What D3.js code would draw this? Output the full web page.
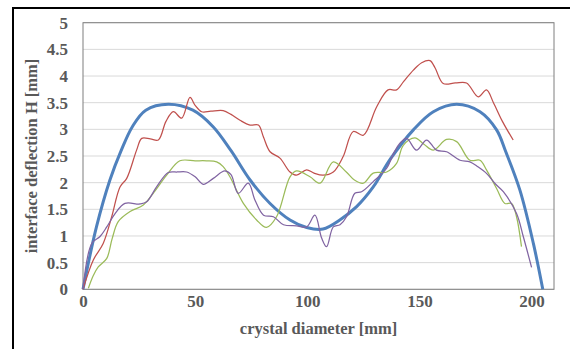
<!DOCTYPE html>
<html>
<head>
<meta charset="utf-8">
<script src="https://cdn.jsdelivr.net/npm/d3@7"></script>
<style>
  body { margin: 0; background: #fff; }
  text { font-family: "Liberation Serif", "Times New Roman", serif; font-weight: bold; fill: #595959; }
</style>
</head>
<body>
<div id="chart"></div>
<script>
// calculated profile (thick blue)
const calcX = [0, 6, 12, 17, 22, 28, 38, 49, 58, 66, 74.5, 83.4, 92.3, 99.7, 107, 114.5, 122, 129.4, 137, 147.3, 156.2, 166.6, 177, 184.4, 188.5, 194.8, 200.8, 205];
const calcH = [0, 1.17, 2.05, 2.6, 3.05, 3.36, 3.47, 3.36, 3.05, 2.6, 2.05, 1.61, 1.3, 1.16, 1.13, 1.3, 1.55, 1.92, 2.44, 2.99, 3.33, 3.47, 3.33, 2.99, 2.58, 1.86, 0.86, 0];

// measured profiles
const redX = [0, 4.6, 9, 12.8, 16.5, 19.5, 23.9, 26.2, 30, 33.6, 37, 40.3, 44, 47.7, 50, 52.9, 57, 62.5, 66, 70, 74.5, 78.2, 80.5, 83.4, 87.8, 92.3, 95.2, 99.7, 103, 107, 111.6, 116, 120.5, 125, 130.9, 136, 139.8, 143, 147.3, 151, 154.7, 157, 160.6, 166, 171, 176.2, 179.9, 183, 187, 191.8];
const redH = [0, 0.55, 0.86, 1.36, 1.92, 2.08, 2.61, 2.83, 2.82, 2.8, 3.15, 3.33, 3.21, 3.6, 3.45, 3.33, 3.34, 3.35, 3.28, 3.17, 3.08, 3.08, 2.85, 2.58, 2.46, 2.2, 2.14, 2.24, 2.18, 2.14, 2.2, 2.49, 2.96, 2.89, 3.42, 3.74, 3.74, 3.9, 4.11, 4.25, 4.29, 4.15, 3.86, 3.87, 3.87, 3.61, 3.74, 3.5, 3.15, 2.8];

const greenX = [2.4, 4.5, 6.8, 10.6, 13, 15.7, 21, 26.9, 31.3, 37.3, 43.2, 50, 55.1, 59.6, 62.5, 65.5, 71.5, 77.4, 81.8, 86.3, 92.3, 95.2, 101.2, 105.7, 111.6, 117.4, 121, 125, 129.4, 135.4, 139.8, 142.8, 148, 152, 156.2, 162.1, 166.6, 172.5, 177, 179.9, 184.4, 188.1, 191.1, 193.3, 195.5];
const greenH = [0.02, 0.25, 0.42, 0.58, 0.95, 1.27, 1.46, 1.58, 1.8, 2.14, 2.41, 2.41, 2.41, 2.39, 2.3, 2.11, 1.61, 1.3, 1.16, 1.36, 2.11, 2.22, 2.11, 1.99, 2.39, 2.2, 2.05, 1.99, 2.18, 2.2, 2.36, 2.7, 2.84, 2.72, 2.61, 2.81, 2.77, 2.42, 2.42, 2.24, 1.89, 1.61, 1.61, 1.36, 0.8];

const purpleX = [0, 3.9, 7.6, 10.6, 14.3, 18.7, 25.4, 28.4, 32.8, 38, 42, 46.2, 50, 53.6, 58.1, 63.2, 66, 69.2, 73.7, 76.7, 80.5, 84.9, 89.4, 95.2, 99.7, 103.4, 106.4, 108.6, 111.6, 114.6, 117.5, 121.2, 124.2, 129.4, 135.4, 138.5, 141.3, 144.3, 148.7, 153.2, 157.6, 162.1, 168.1, 172.5, 176, 180, 184, 187.4, 193.3, 196.3, 200];
const purpleH = [0, 0.86, 0.99, 1.17, 1.42, 1.61, 1.6, 1.64, 1.92, 2.19, 2.2, 2.2, 2.11, 1.97, 2.08, 2.22, 2.15, 1.8, 1.99, 1.67, 1.39, 1.36, 1.21, 1.19, 1.17, 1.39, 0.96, 0.8, 1.17, 1.21, 1.36, 1.8, 1.83, 2.02, 2.27, 2.55, 2.74, 2.83, 2.61, 2.8, 2.61, 2.58, 2.42, 2.39, 2.3, 2.17, 1.97, 1.83, 1.42, 0.99, 0.41];

const xTicks = [0, 50, 100, 150, 200];
const yTicks = [0, 0.5, 1, 1.5, 2, 2.5, 3, 3.5, 4, 4.5, 5];

const width = 570, height = 349;
const plotLeft = 83, plotRight = 554, plotTop = 22.7, plotBottom = 289.3;

const svg = d3.select("#chart").append("svg")
  .attr("width", width)
  .attr("height", height);

svg.append("rect").attr("width", width).attr("height", height).attr("fill", "#fff");

// outer figure frame (top and left edges)
svg.append("path")
  .attr("d", `M13,${height} V8 H${width}`)
  .attr("fill", "none")
  .attr("stroke", "#000")
  .attr("stroke-width", 2);

const x = d3.scaleLinear().domain([0, 210]).range([plotLeft, plotRight]);
const y = d3.scaleLinear().domain([0, 5]).range([plotBottom, plotTop]);

// gridlines
svg.append("g")
  .selectAll("line")
  .data(yTicks)
  .join("line")
  .attr("x1", plotLeft).attr("x2", plotRight)
  .attr("y1", d => y(d)).attr("y2", d => y(d))
  .attr("stroke", "#d9d9d9")
  .attr("stroke-width", 1);

// plot area border
svg.append("rect")
  .attr("x", plotLeft).attr("y", plotTop)
  .attr("width", plotRight - plotLeft).attr("height", plotBottom - plotTop)
  .attr("fill", "none")
  .attr("stroke", "#7f7f7f")
  .attr("stroke-width", 1);

const yAxis = svg.append("g")
  .attr("transform", `translate(${plotLeft},0)`)
  .call(d3.axisLeft(y).tickValues(yTicks).tickSize(0).tickPadding(15).tickFormat(d3.format("")));
yAxis.select(".domain").remove();
yAxis.selectAll("text").attr("font-size", 17).attr("font-family", null);

const xAxis = svg.append("g")
  .attr("transform", `translate(0,${plotBottom})`)
  .call(d3.axisBottom(x).tickValues(xTicks).tickSize(0).tickPadding(6));
xAxis.select(".domain").remove();
xAxis.selectAll("text").attr("font-size", 17).attr("font-family", null);

svg.append("text")
  .attr("x", (plotLeft + plotRight) / 2)
  .attr("y", 334)
  .attr("text-anchor", "middle")
  .attr("font-size", 16.5)
  .text("crystal diameter [mm]");

svg.append("text")
  .attr("transform", `translate(37,${(plotTop + plotBottom) / 2}) rotate(-90)`)
  .attr("text-anchor", "middle")
  .attr("font-size", 16.5)
  .text("interface deflection H [mm]");

const line = d3.line()
  .x(d => x(d[0]))
  .y(d => y(d[1]))
  .curve(d3.curveCatmullRom.alpha(0.5));

const series = [
  { xs: calcX, hs: calcH, color: "#4f81bd", w: 3 },
  { xs: redX, hs: redH, color: "#c0504d", w: 1.25 },
  { xs: greenX, hs: greenH, color: "#9bbb59", w: 1.25 },
  { xs: purpleX, hs: purpleH, color: "#8064a2", w: 1.25 }
];

svg.append("g")
  .selectAll("path")
  .data(series)
  .join("path")
  .attr("d", s => line(d3.zip(s.xs, s.hs)))
  .attr("fill", "none")
  .attr("stroke", s => s.color)
  .attr("stroke-width", s => s.w)
  .attr("stroke-linejoin", "round");
</script>
</body>
</html>
